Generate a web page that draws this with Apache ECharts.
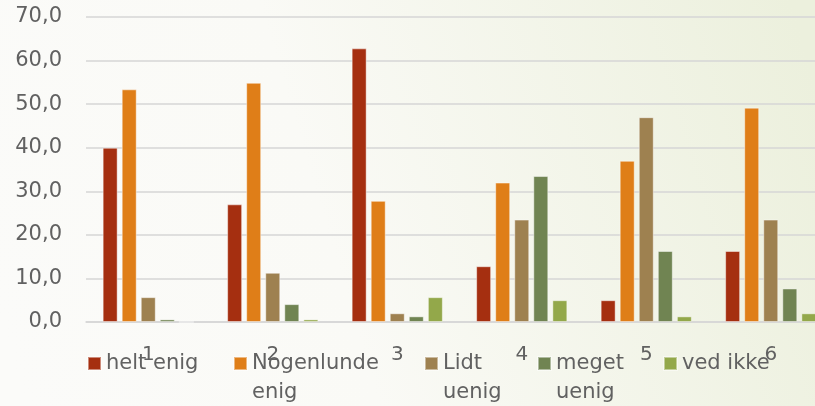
<!DOCTYPE html>
<html>
<head>
<meta charset="utf-8">
<script src="https://cdn.jsdelivr.net/npm/echarts@6/dist/echarts.min.js"></script>
<style>
html,body{margin:0;padding:0;}
#chart{width:815px;height:406px;}
</style>
</head>
<body>
<div id="chart"></div>
<script>
var categories = ['1', '2', '3', '4', '5', '6'];
var seriesNames = ['helt enig', 'Nogenlunde enig', 'Lidt uenig', 'meget uenig', 'ved ikke'];
var legendLabels = ['helt enig', 'Nogenlunde\nenig', 'Lidt\nuenig', 'meget\nuenig', 'ved ikke'];
var heltEnig = [40.0, 27.0, 62.8, 12.8, 5.0, 16.3];
var nogenlundeEnig = [53.4, 54.9, 27.8, 32.0, 37.0, 49.2];
var lidtUenig = [5.7, 11.3, 2.0, 23.5, 47.0, 23.5];
var megetUenig = [0.6, 4.1, 1.3, 33.5, 16.3, 7.7];
var vedIkke = [0.0, 0.6, 5.7, 5.0, 1.3, 2.0];
var yTickLabels = ['0,0', '10,0', '20,0', '30,0', '40,0', '50,0', '60,0', '70,0'];

var seriesValues = [heltEnig, nogenlundeEnig, lidtUenig, megetUenig, vedIkke];
var colors = ['#A52F10', '#DF7E18', '#9E8150', '#708452', '#93A84A'];
var legendWidths = [127, 172, 94, 107, 100];
var FONT = 'DejaVu Sans';
var TXT = '#616161';

var chart = echarts.init(document.getElementById('chart'), null, {renderer: 'canvas'});
var option = {
  backgroundColor: {
    type: 'linear', x: 0, y: 0.8, x2: 1, y2: 0.2,
    colorStops: [
      {offset: 0, color: '#FBFBF9'},
      {offset: 0.4, color: '#FAFAF6'},
      {offset: 1, color: '#ECF0DD'}
    ]
  },
  animation: false,
  color: colors,
  grid: {left: 86, right: -18, top: 17, bottom: 84, containLabel: false, outerBoundsMode: 'none'},
  legend: {
    left: 87, top: 349, padding: 0, itemGap: 0,
    itemWidth: 13, itemHeight: 42,
    icon: 'path://M0,0L13,0L13,13L0,13Z M0,42L0.001,42',
    data: seriesNames.map(function (n, i) {
      return {
        name: n,
        textStyle: {
          width: legendWidths[i],
          backgroundColor: 'rgba(0,0,0,0)'
        }
      };
    }),
    formatter: function (n) {
      var s = legendLabels[seriesNames.indexOf(n)];
      return s.indexOf('\n') >= 0 ? s : s + '\n ';
    },
    textStyle: {fontFamily: FONT, fontSize: 21, color: TXT, lineHeight: 29}
  },
  xAxis: {
    type: 'category',
    data: categories,
    axisLine: {lineStyle: {color: '#D6D6D6', width: 1.5}},
    axisTick: {show: false},
    axisLabel: {fontFamily: FONT, fontSize: 20, color: TXT, margin: 23}
  },
  yAxis: {
    type: 'value', min: 0, max: 70, interval: 10,
    axisLine: {show: false},
    axisTick: {show: false},
    splitLine: {lineStyle: {color: '#D6D6D6', width: 1.5}},
    axisLabel: {
      fontFamily: FONT, fontSize: 21, color: TXT, margin: 24,
      formatter: function (v) { return yTickLabels[Math.round(v / 10)]; }
    }
  },
  series: seriesNames.map(function (n, i) {
    return {
      name: n, type: 'bar', data: seriesValues[i],
      barWidth: 15, barGap: '27%',
      itemStyle: {color: colors[i], borderColor: 'rgba(255,255,255,0.45)', borderWidth: 1}
    };
  })
};
chart.setOption(option);
</script>
</body>
</html>
